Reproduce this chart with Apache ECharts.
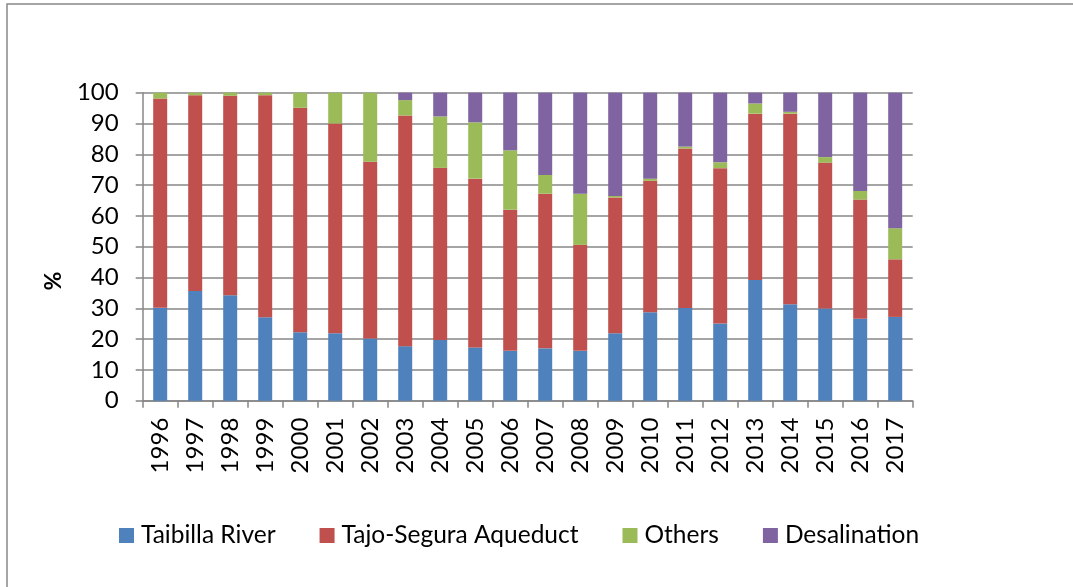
<!DOCTYPE html>
<html>
<head>
<meta charset="utf-8">
<script src="https://cdn.jsdelivr.net/npm/echarts@6/dist/echarts.min.js"></script>
<style>html,body{margin:0;padding:0;background:#fff;}#c{width:1073px;height:587px;}</style>
</head>
<body>
<div id="c"></div>
<script>
const years = ['1996','1997','1998','1999','2000','2001','2002','2003','2004','2005','2006','2007','2008','2009','2010','2011','2012','2013','2014','2015','2016','2017'];
const taibilla = [30.2,35.6,34.2,27.1,22.2,21.9,20.2,17.7,19.7,17.3,16.2,17.0,16.2,21.9,28.7,30.1,25.1,39.2,31.3,29.9,26.6,27.2];
const tajoSegura = [67.9,63.6,64.8,72.1,72.9,68.1,57.4,74.9,55.9,54.8,45.8,50.2,34.4,44.1,42.7,51.8,50.4,54.0,61.9,47.4,38.7,18.7];
const others = [1.9,0.8,1.0,0.8,4.9,10.0,22.4,5.0,16.7,18.3,19.3,6.1,16.6,0.5,0.7,0.6,1.9,3.3,0.6,1.8,2.8,10.1];
const desalination = [0,0,0,0,0,0,0,2.4,7.7,9.6,18.7,26.7,32.8,33.5,27.9,17.5,22.6,3.5,6.2,20.9,31.9,44.0];
const yTicks = [0,10,20,30,40,50,60,70,80,90,100];
const seriesNames = ['Taibilla River','Tajo-Segura Aqueduct','Others','Desalination'];

const FONT = 'Lato';
const gridColor = '#878787';
const chart = echarts.init(document.getElementById('c'), null, {renderer:'canvas'});
const mk = (name, data, color) => ({
  name, type:'bar', stack:'s', data, barWidth:14,
  itemStyle:{color}, emphasis:{disabled:true}
});
chart.setOption({
  animation:false,
  backgroundColor:'#fff',
  textStyle:{fontFamily:FONT},
  graphic:[
    {type:'rect', shape:{x:7, y:4, width:1200, height:700}, style:{fill:'none', stroke:'#888', lineWidth:1.5}},
    {type:'text', x:54, y:281, rotation:Math.PI/2, style:{text:'%', font:'bold 23px '+FONT, fill:'#000', textAlign:'center', textVerticalAlign:'middle'}}
  ],
  grid:{left:142.7, right:160.3, top:92.7, bottom:186.3},
  legend:{
    left:119, top:523, padding:0, itemWidth:15, itemHeight:15, itemGap:44,
    icon:'rect',
    data:seriesNames,
    textStyle:{fontFamily:FONT, fontSize:24.5, color:'#000', padding:[0,0,0,2]}
  },
  xAxis:{
    type:'category', data:years,
    axisLine:{lineStyle:{color:gridColor, width:1.5}},
    axisTick:{show:true, length:7, lineStyle:{color:gridColor, width:1.5}},
    axisLabel:{rotate:90, margin:17, fontSize:24, color:'#000', fontFamily:FONT, interval:0}
  },
  yAxis:{
    type:'value', min:yTicks[0], max:yTicks[yTicks.length-1], interval:10,
    axisLine:{show:true, lineStyle:{color:gridColor, width:1.5}},
    axisTick:{show:true, length:7, lineStyle:{color:gridColor, width:1.5}},
    splitLine:{lineStyle:{color:gridColor, width:1.5}},
    axisLabel:{margin:24, fontSize:24, color:'#000', fontFamily:FONT}
  },
  series:[
    mk(seriesNames[0], taibilla, '#4f81bd'),
    mk(seriesNames[1], tajoSegura, '#c0504d'),
    mk(seriesNames[2], others, '#9bbb59'),
    mk(seriesNames[3], desalination, '#8064a2')
  ]
});
</script>
</body>
</html>
